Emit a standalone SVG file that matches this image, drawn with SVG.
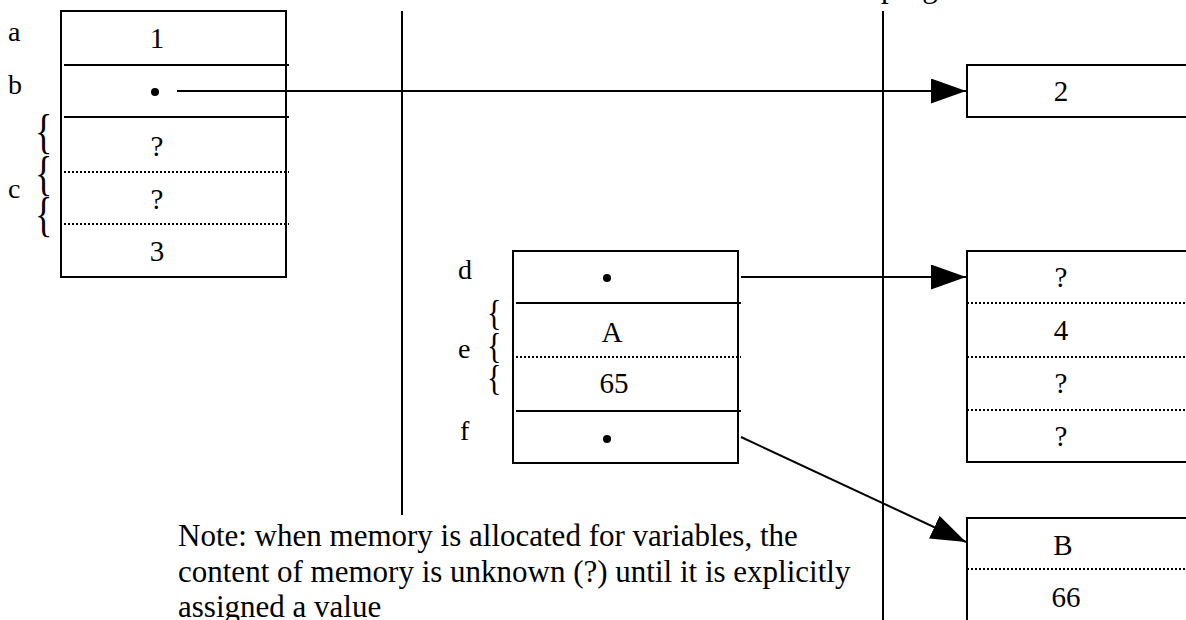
<svg xmlns="http://www.w3.org/2000/svg" width="1186" height="620" viewBox="0 0 1186 620">
<style>
text{font-family:"Liberation Serif","Times New Roman",serif;fill:#000}
.v{font-size:29px;text-anchor:middle}
.lbl{font-size:28px}
.br1{font-size:36px}
.br2{font-size:30px}
.note{font-size:31px}
.box{fill:#fff;stroke:#000;stroke-width:2}
.sol{stroke:#000;stroke-width:2}
.dot{stroke:#000;stroke-width:2;stroke-dasharray:2 2}
.ln{stroke:#000;stroke-width:2;fill:none}
</style>
<defs>
<marker id="ah" markerUnits="userSpaceOnUse" markerWidth="36" markerHeight="26" refX="35" refY="12.5" orient="auto">
<path d="M0,0 L35,12.5 L0,25 z" fill="#000"/>
</marker>
</defs>
<rect width="1186" height="620" fill="#fff"/>
<text class="note" x="881" y="-3">program</text>
<g id="dividers">
<line class="ln" x1="402" y1="11" x2="402" y2="515"/>
<line class="ln" x1="883" y1="11" x2="883" y2="620"/>
</g>
<g id="vars-abc">
<rect class="box" x="61" y="11" width="225" height="266"/>
<line class="sol" x1="64" y1="65" x2="289" y2="65"/>
<line class="sol" x1="64" y1="117" x2="289" y2="117"/>
<line class="dot" x1="64" y1="172" x2="289" y2="172"/>
<line class="dot" x1="64" y1="224" x2="289" y2="224"/>
<text class="v" x="157" y="48">1</text>
<circle cx="155" cy="92" r="4"/>
<text class="v" x="157" y="156">?</text>
<text class="v" x="157" y="209">?</text>
<text class="v" x="157" y="261">3</text>
<text class="lbl" x="8" y="41">a</text>
<text class="lbl" x="8" y="94">b</text>
<text class="lbl" x="8" y="198">c</text>
<text class="br1" transform="translate(35,148) scale(1,1.33)">{</text>
<text class="br1" transform="translate(35,190) scale(1,1.33)">{</text>
<text class="br1" transform="translate(35,231) scale(1,1.33)">{</text>
</g>
<g id="vars-def">
<rect class="box" x="513" y="251" width="225" height="212"/>
<line class="sol" x1="516" y1="303" x2="741" y2="303"/>
<line class="dot" x1="516" y1="357" x2="741" y2="357"/>
<line class="sol" x1="516" y1="411" x2="741" y2="411"/>
<circle cx="607" cy="278" r="4"/>
<text class="v" x="612" y="342">A</text>
<text class="v" x="614" y="393">65</text>
<circle cx="607" cy="439" r="4"/>
<text class="lbl" x="458" y="279">d</text>
<text class="lbl" x="458" y="358">e</text>
<text class="lbl" x="460" y="440">f</text>
<text class="br2" transform="translate(487,325) scale(1,1.22)">{</text>
<text class="br2" transform="translate(487,358) scale(1,1.22)">{</text>
<text class="br2" transform="translate(487,390) scale(1,1.22)">{</text>
</g>
<g id="heap-2">
<rect class="box" x="967" y="65" width="240" height="52"/>
<text class="v" x="1061" y="101">2</text>
</g>
<g id="heap-array">
<rect class="box" x="967" y="251" width="240" height="211"/>
<line class="dot" x1="967" y1="303" x2="1186" y2="303"/>
<line class="dot" x1="967" y1="357" x2="1186" y2="357"/>
<line class="dot" x1="967" y1="410" x2="1186" y2="410"/>
<text class="v" x="1061" y="287">?</text>
<text class="v" x="1061" y="340">4</text>
<text class="v" x="1061" y="393">?</text>
<text class="v" x="1061" y="446">?</text>
</g>
<g id="heap-B">
<rect class="box" x="967" y="518" width="240" height="120"/>
<line class="dot" x1="967" y1="569" x2="1186" y2="569"/>
<text class="v" x="1063" y="555">B</text>
<text class="v" x="1066" y="607">66</text>
</g>
<g id="connectors">
<line class="ln" x1="177" y1="91" x2="966" y2="91" marker-end="url(#ah)"/>
<line class="ln" x1="741" y1="277" x2="966" y2="277" marker-end="url(#ah)"/>
<line class="ln" x1="741" y1="437" x2="966" y2="542" marker-end="url(#ah)"/>
</g>
<g id="note">
<text class="note" x="178" y="546">Note: when memory is allocated for variables, the</text>
<text class="note" x="178" y="582">content of memory is unknown (?) until it is explicitly</text>
<text class="note" x="178" y="617">assigned a value</text>
</g>
</svg>
